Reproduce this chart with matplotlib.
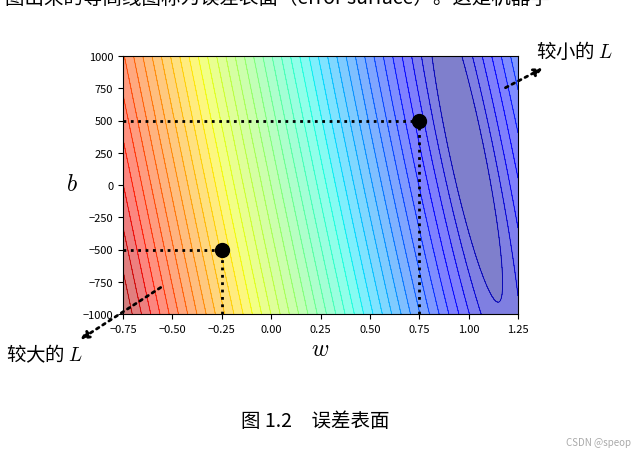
import numpy as np
import matplotlib
matplotlib.use("Agg")
import matplotlib.pyplot as plt
from matplotlib.patches import FancyArrowPatch

plt.rcParams['font.family'] = ['Noto Sans CJK SC', 'DejaVu Sans']
plt.rcParams['mathtext.fontset'] = 'cm'

# toy training data behind the loss surface
x_data = [1800, 2800, 4300, 6300, 8500, 10500]
y_data = [2230, 2840, 4670, 6390, 8830, 10560]

w_range = (-0.75, 1.25)
b_range = (-1000, 1000)
points_w = [0.75, -0.25]
points_b = [500, -500]

w = np.linspace(*w_range, 400)
b = np.linspace(*b_range, 400)
W, B = np.meshgrid(w, b)
xs = np.array(x_data)[:, None, None]
ys = np.array(y_data)[:, None, None]
Z = np.sqrt(np.mean((ys - B - W * xs) ** 2, axis=0))

fig = plt.figure(figsize=(6.42, 4.56), dpi=100)
ax = fig.add_axes([123 / 642, 1 - 315 / 456, 395 / 642, 258 / 456])
step = Z.max() / 41
levels = np.concatenate([[0], np.arange(2.0 * step, Z.max() + step, step)])
ax.contourf(W, B, Z, levels=levels, cmap="jet", alpha=0.5)
ax.contour(W, B, Z, levels=levels, cmap="jet", linewidths=0.6)

for pw, pb in zip(points_w, points_b):
    ax.plot([w_range[0], pw], [pb, pb], ":", color="black", lw=2)
    ax.plot([pw, pw], [b_range[0], pb], ":", color="black", lw=2)
    ax.plot(pw, pb, "o", color="black", ms=10)

ax.set_xlim(*w_range)
ax.set_ylim(*b_range)
ax.set_xticks(np.arange(-0.75, 1.26, 0.25))
ax.set_yticks(np.arange(-1000, 1001, 250))
ax.tick_params(labelsize=8)

fig.text(72 / 642, 1 - 185 / 456, "$b$", fontsize=17, ha="center", va="center")
fig.text(320 / 642, 1 - 350 / 456, "$w$", fontsize=17, ha="center", va="center")

fig.text(575 / 642, 1 - 52 / 456, "较小的 $L$", fontsize=14, ha="center", va="center")
fig.text(45 / 642, 1 - 355 / 456, "较大的 $L$", fontsize=14, ha="center", va="center")
arrow_kw = dict(arrowstyle="-|>", linestyle=":", lw=2, color="black", mutation_scale=12)
fig.add_artist(FancyArrowPatch(
    (503 / 642, 1 - 90 / 456), (545 / 642, 1 - 68 / 456), transform=fig.transFigure, **arrow_kw))
fig.add_artist(FancyArrowPatch(
    (163 / 642, 1 - 287 / 456), (78 / 642, 1 - 342 / 456), transform=fig.transFigure, **arrow_kw))

fig.text(315 / 642, 1 - 422 / 456, "图 1.2　误差表面", fontsize=14, ha="center", va="center")
fig.text(598 / 642, 1 - 443 / 456, "CSDN @speop", fontsize=7, color="#aaaaaa", ha="center", va="center")
fig.text(5 / 642, 1 + 2 / 456, "图出来的等高线图称为误差表面（error surface）。这是机器学",
         fontsize=14, ha="left", va="center")

fig.savefig("out.png", dpi=100)
